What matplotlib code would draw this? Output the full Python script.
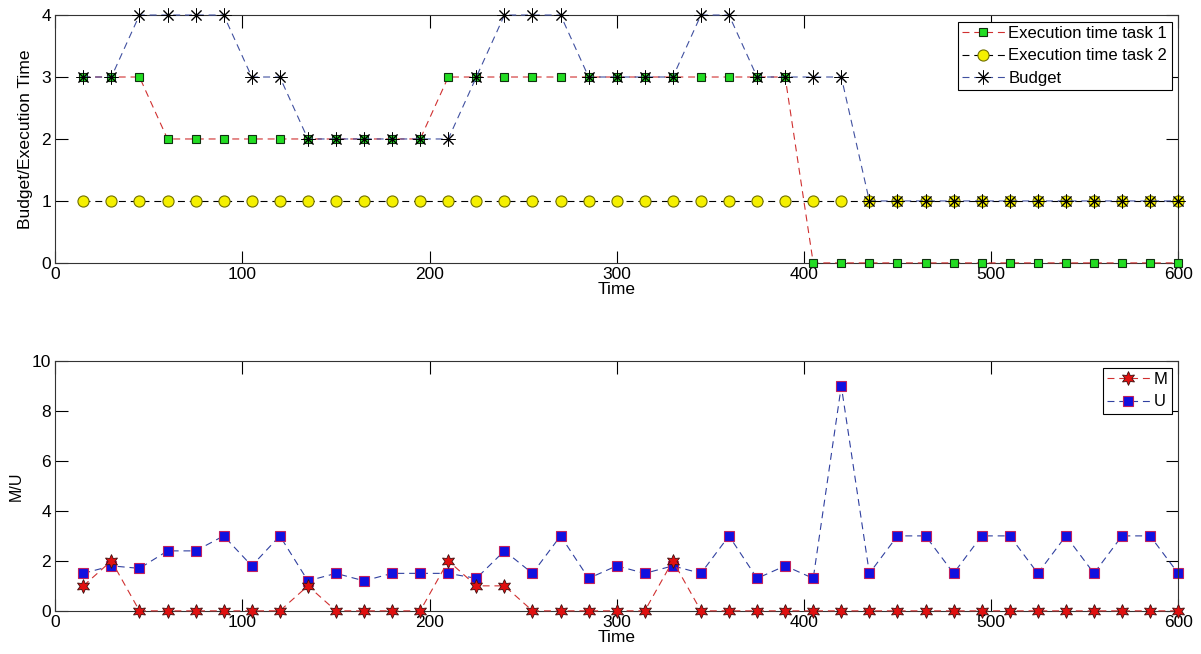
import matplotlib
matplotlib.use("Agg")
import matplotlib.pyplot as plt
import numpy as np

plt.rcParams['font.family'] = ['Liberation Sans', 'DejaVu Sans']
plt.rcParams['lines.scale_dashes'] = False

time = list(range(15, 601, 15))

exec_task1 = [3, 3, 3,
              2, 2, 2, 2, 2, 2, 2, 2, 2, 2,
              3, 3, 3, 3, 3, 3, 3, 3, 3, 3, 3, 3, 3,
              0, 0, 0, 0, 0, 0, 0, 0, 0, 0, 0, 0, 0, 0]
exec_task2 = [1] * 40
budget = [3, 3, 4, 4, 4, 4, 3, 3, 2, 2, 2, 2, 2, 2, 3, 4, 4, 4, 3, 3,
          3, 3, 4, 4, 3, 3, 3, 3, 1, 1, 1, 1, 1, 1, 1, 1, 1, 1, 1, 1]

m_vals = [1, 2, 0, 0, 0, 0, 0, 0, 1, 0, 0, 0, 0, 2, 1, 1, 0, 0, 0, 0,
          0, 2, 0, 0, 0, 0, 0, 0, 0, 0, 0, 0, 0, 0, 0, 0, 0, 0, 0, 0]
u_vals = [1.5, 1.8, 1.7, 2.4, 2.4, 3.0, 1.8, 3.0, 1.2, 1.5, 1.2, 1.5, 1.5,
          1.5, 1.3, 2.4, 1.5, 3.0, 1.3, 1.8, 1.5, 1.8, 1.5, 3.0, 1.3, 1.8,
          1.3, 9.0, 1.5, 3.0, 3.0, 1.5, 3.0, 3.0, 1.5, 3.0, 1.5, 3.0, 3.0, 1.5]

fig = plt.figure(figsize=(12.01, 6.54), dpi=100)
ax1 = fig.add_axes([0.046, 0.598, 0.935, 0.379])
ax2 = fig.add_axes([0.046, 0.066, 0.935, 0.382])

lw = 0.8
dash = (0, (5, 3.5))
ax1.plot(time, exec_task1, linestyle=dash, color='#d03030', lw=lw, marker='s',
         markersize=6, markerfacecolor='#22dd22', markeredgecolor='#103010',
         markeredgewidth=0.8, label='Execution time task 1', clip_on=False, zorder=3)
ax1.plot(time, exec_task2, linestyle=dash, color='black', lw=lw, marker='o',
         markersize=8, markerfacecolor='#f5f000', markeredgecolor='#707000',
         markeredgewidth=0.8, label='Execution time task 2', clip_on=False, zorder=2)
ax1.plot(time, budget, linestyle=dash, color='#4050a0', lw=lw, marker=(8, 2, 0),
         markersize=10, markerfacecolor='none', markeredgecolor='black',
         markeredgewidth=0.7, label='Budget', clip_on=False, zorder=4)

ax1.set_xlim(0, 600)
ax1.set_ylim(0, 4)
ax1.set_xticks(range(0, 601, 100))
ax1.set_yticks(range(0, 5))
ax1.set_xlabel('Time', fontsize=12.5, labelpad=0)
ax1.set_ylabel('Budget/Execution Time', fontsize=12.6, labelpad=6)
leg1 = ax1.legend(loc='upper right', fontsize=12, fancybox=False, edgecolor='black',
                  framealpha=1, borderpad=0.25, handlelength=2.6, handletextpad=0.2,
                  labelspacing=0.45, borderaxespad=0.4)
leg1.get_frame().set_linewidth(0.8)

hexagram = (6, 1, 0)
ax2.plot(time, m_vals, linestyle=dash, color='#d03030', lw=lw, marker=hexagram,
         markersize=10, markerfacecolor='#e01010', markeredgecolor='#401010',
         markeredgewidth=0.6, label='M', clip_on=False, zorder=3)
ax2.plot(time, u_vals, linestyle=dash, color='#3040a0', lw=lw, marker='s',
         markersize=7, markerfacecolor='#1010e0', markeredgecolor='#c02060',
         markeredgewidth=0.8, label='U', clip_on=False, zorder=2)

ax2.set_xlim(0, 600)
ax2.set_ylim(0, 10)
ax2.set_xticks(range(0, 601, 100))
ax2.set_yticks(range(0, 11, 2))
ax2.set_xlabel('Time', fontsize=12.5, labelpad=0)
ax2.set_ylabel('M/U', fontsize=11.5, labelpad=6)
leg2 = ax2.legend(loc='upper right', fontsize=12, fancybox=False, edgecolor='black',
                  framealpha=1, borderpad=0.25, handlelength=2.6, handletextpad=0.2,
                  labelspacing=0.45, borderaxespad=0.4)
leg2.get_frame().set_linewidth(0.8)

for ax in (ax1, ax2):
    ax.tick_params(direction='in', top=True, right=True, length=9, width=0.8,
                   labelsize=12.5, pad=3)
    for s in ax.spines.values():
        s.set_linewidth(0.8)
        s.set_color('#333333')

fig.savefig('out.png', dpi=100)
